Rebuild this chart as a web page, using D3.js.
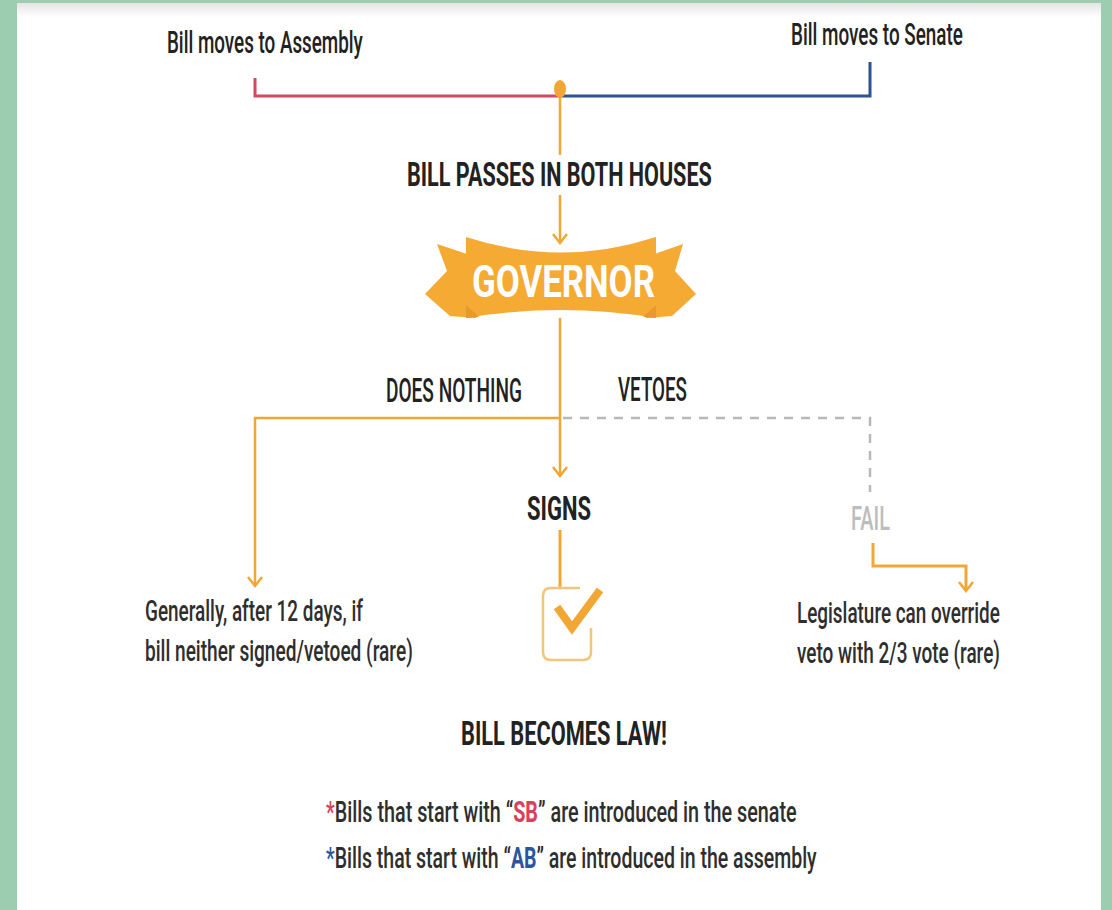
<!DOCTYPE html>
<html>
<head>
  <style type="text/css">
    body { margin: 0; background: #9dcdb0; }
    svg { display: block; }
    text { font-family: "Roboto", "Liberation Sans", sans-serif; }
  </style>
</head>
<body>
<svg></svg>
<script src="https://d3js.org/d3.v7.min.js"></script>
<script>
    var width = 1112;
    var height = 910;

    // texts
    var houseLabels = ['Bill moves to Assembly', 'Bill moves to Senate'];
    var stepLabels = ['BILL PASSES IN BOTH HOUSES', 'GOVERNOR', 'SIGNS', 'BILL BECOMES LAW!'];
    var branchLabels = ['DOES NOTHING', 'VETOES', 'FAIL'];
    var leftNote = ['Generally, after 12 days, if', 'bill neither signed/vetoed (rare)'];
    var rightNote = ['Legislature can override', 'veto with 2/3 vote (rare)'];
    var footnotes = [
      {pre: 'Bills that start with \u201C', code: 'SB', post: '\u201D  are introduced in the senate', color: '#d8405c'},
      {pre: 'Bills that start with \u201C', code: 'AB', post: '\u201D are introduced in the assembly', color: '#2b55a0'}
    ];

    var orange = '#f2a734';
    var red = '#d04a62';
    var blue = '#2d5394';
    var ink = '#222';

    var svg = d3.select('svg')
      .attr('width', width)
      .attr('height', height);

    var defs = svg.append('defs');
    var grad = defs.append('linearGradient').attr('id', 'topfade')
      .attr('x1', 0).attr('y1', 0).attr('x2', 0).attr('y2', 1);
    grad.append('stop').attr('offset', '0%').attr('stop-color', '#e4e4e4');
    grad.append('stop').attr('offset', '100%').attr('stop-color', '#ffffff');

    // white panel
    svg.append('rect').attr('x', 17).attr('y', 3).attr('width', 1084).attr('height', height - 3).attr('fill', '#fff');
    svg.append('rect').attr('x', 17).attr('y', 3).attr('width', 1084).attr('height', 14).attr('fill', 'url(#topfade)');

    // squeeze a text to a given width (condensed look)
    function fit(sel, x0, w) {
      var n = sel.node().getComputedTextLength();
      var k = w / n;
      sel.attr('transform', 'translate(' + x0 + ',0) scale(' + k + ',1) translate(' + (-x0) + ',0)');
      return sel;
    }
    function label(txt, x0, y, w, size, weight, color) {
      var t = svg.append('text')
        .attr('x', x0).attr('y', y)
        .attr('font-size', size)
        .attr('font-weight', weight)
        .attr('fill', color)
        .text(txt);
      return fit(t, x0, w);
    }
    function arrowHead(x, y) {
      svg.append('path')
        .attr('d', 'M' + (x - 7) + ',' + (y - 9) + 'L' + x + ',' + y + 'L' + (x + 7) + ',' + (y - 9))
        .attr('fill', 'none').attr('stroke', orange).attr('stroke-width', 2.5);
    }
    function line(pts, color, w, dash) {
      var p = svg.append('path')
        .attr('d', d3.line()(pts))
        .attr('fill', 'none')
        .attr('stroke', color)
        .attr('stroke-width', w);
      if (dash) p.attr('stroke-dasharray', dash);
      return p;
    }

    // top houses
    label(houseLabels[0], 167, 53, 196, 31, 500, ink);
    label(houseLabels[1], 791, 45, 172, 31, 500, ink);
    line([[255, 78], [255, 96], [558, 96]], red, 3);
    line([[558, 96], [870, 96], [870, 62]], blue, 3);
    line([[560, 96], [560, 155]], orange, 2.5);
    svg.append('ellipse').attr('cx', 560).attr('cy', 89).attr('rx', 6).attr('ry', 9).attr('fill', orange);

    label(stepLabels[0], 407, 186, 305, 34, 'bold', ink);
    line([[560, 195], [560, 242]], orange, 2.5);
    arrowHead(560, 243);

    // governor ribbon
    var rib = svg.append('g').attr('fill', '#f5aa33');
    rib.append('path').attr('d', 'M437,244L476,257L476,318L450,316L425,294L447,271Z');
    rib.append('path').attr('d', 'M683,244L646,257L646,318L672,316L696,294L675,271Z');
    rib.append('path').attr('d', 'M466,237Q561,268 656,237L656,318Q561,302 466,318Z');
    svg.append('path').attr('d', 'M466,305L466,318L479,317Z').attr('fill', '#e6992c');
    svg.append('path').attr('d', 'M656,305L656,318L643,317Z').attr('fill', '#e6992c');
    label(stepLabels[1], 472, 297, 183, 45, 'bold', '#fff');

    line([[560, 318], [560, 474]], orange, 2.5);
    arrowHead(560, 476);

    // branches
    label(branchLabels[0], 386, 402, 136, 33, 500, ink);
    label(branchLabels[1], 618, 401, 69, 33, 500, ink);
    line([[560, 418], [255, 418], [255, 584]], orange, 2.5);
    arrowHead(255, 586);
    line([[563, 418], [870, 418], [870, 492]], '#b8b8b8', 2.5, '9,8');
    label(branchLabels[2], 851, 530, 39, 33, 500, '#bdbdbd');
    line([[873, 543], [873, 566], [966, 566], [966, 589]], orange, 3);
    arrowHead(966, 591);

    // signs + checkbox
    label(stepLabels[2], 527, 520, 64, 34, 'bold', ink);
    line([[560, 530], [560, 588]], orange, 3);
    svg.append('path')
      .attr('d', 'M580,588L551,588Q543,588 543,596L543,652Q543,660 551,660L583,660Q591,660 591,652L591,628')
      .attr('fill', 'none').attr('stroke', '#f3c47d').attr('stroke-width', 2.5);
    line([[557, 607], [572, 628], [600, 590]], orange, 8);

    // notes
    label(leftNote[0], 145, 621, 218, 30, 500, '#2e2e2e');
    label(leftNote[1], 145, 661, 268, 30, 500, '#2e2e2e');
    label(rightNote[0], 797, 623, 203, 30, 500, '#2e2e2e');
    label(rightNote[1], 797, 663, 203, 30, 500, '#2e2e2e');

    label(stepLabels[3], 461, 745, 206, 33, 'bold', ink);

    // footnotes
    var fnY = [822, 868];
    var fnW = [471, 491];
    footnotes.forEach(function(f, i) {
      var t = svg.append('text')
        .attr('x', 326).attr('y', fnY[i])
        .attr('font-size', 30)
        .attr('font-weight', 500)
        .attr('fill', '#2e2e2e');
      t.append('tspan').attr('fill', f.color).text('*');
      t.append('tspan').text(f.pre);
      t.append('tspan').attr('fill', f.color).attr('font-weight', 'bold').text(f.code);
      t.append('tspan').text(f.post);
      fit(t, 326, fnW[i]);
    });
</script>
</body>
</html>
